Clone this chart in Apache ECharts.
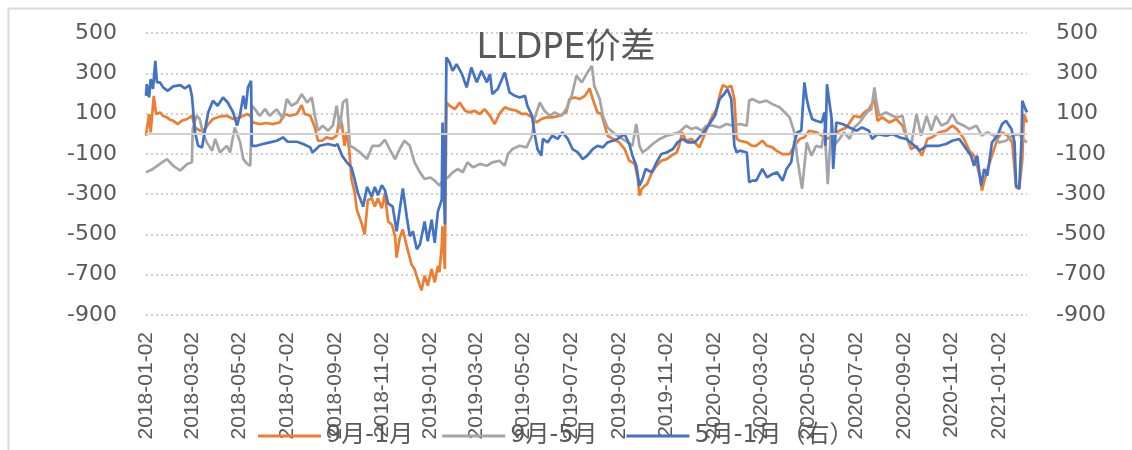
<!DOCTYPE html>
<html>
<head>
<meta charset="utf-8">
<script src="https://cdn.jsdelivr.net/npm/echarts@6/dist/echarts.min.js"></script>
<style>
html,body{margin:0;padding:0;background:#fff;}
#chart{width:1132px;height:450px;}
</style>
</head>
<body>
<div id="chart"></div>
<script>
// ---- data ----
const titleText = 'LLDPE价差';
const seriesNames = ['9月-1月', '9月-5月', '5月-1月（右）'];
const tickLabels = ['2018-01-02','2018-03-02','2018-05-02','2018-07-02','2018-09-02','2018-11-02',
  '2019-01-02','2019-03-02','2019-05-02','2019-07-02','2019-09-02','2019-11-02',
  '2020-01-02','2020-03-02','2020-05-02','2020-07-02','2020-09-02','2020-11-02','2021-01-02'];
const xMin = '2018-01-02';
const xMax = '2021-02-07';
const yMin = -900, yMax = 500, yStep = 200;

const spread91 = [
['2018-01-02',-10],['2018-01-06',97],['2018-01-08',7],['2018-01-12',188],['2018-01-15',97],['2018-01-20',106],['2018-01-24',89],['2018-01-29',81],['2018-02-02',69],['2018-02-06',64],['2018-02-12',48],['2018-02-17',64],['2018-02-24',73],['2018-03-02',89],['2018-03-06',31],['2018-03-12',15],['2018-03-19',23],['2018-03-23',48],['2018-03-29',73],['2018-04-07',86],['2018-04-16',89],['2018-04-24',73],['2018-05-03',81],['2018-05-12',98],['2018-05-16',89],['2018-05-19',56],['2018-05-28',48],['2018-06-06',53],['2018-06-14',48],['2018-06-23',56],['2018-06-29',98],['2018-07-06',89],['2018-07-15',98],['2018-07-21',142],['2018-07-25',98],['2018-08-01',89],['2018-08-07',31],['2018-08-11',-35],['2018-08-16',-35],['2018-08-22',-18],['2018-08-29',-26],['2018-09-04',-10],['2018-09-08',89],['2018-09-11',40],['2018-09-14',-60],['2018-09-17',7],['2018-09-20',-76],['2018-09-23',-225],['2018-09-27',-290],['2018-09-30',-378],['2018-10-06',-444],['2018-10-10',-500],['2018-10-14',-330],['2018-10-19',-320],['2018-10-23',-362],['2018-10-27',-320],['2018-11-01',-370],['2018-11-05',-297],['2018-11-09',-435],['2018-11-14',-452],['2018-11-18',-509],['2018-11-20',-615],['2018-11-24',-517],['2018-11-28',-476],['2018-12-03',-558],['2018-12-09',-648],['2018-12-13',-672],['2018-12-17',-721],['2018-12-22',-778],['2018-12-26',-705],['2018-12-30',-754],['2019-01-04',-672],['2019-01-08',-738],['2019-01-12',-656],['2019-01-14',-688],['2019-01-17',-558],['2019-01-18',-460],['2019-01-21',-672],['2019-01-23',155],
['2019-01-27',139],['2019-02-03',122],['2019-02-09',155],['2019-02-16',114],['2019-02-22',106],['2019-02-28',114],['2019-03-07',98],['2019-03-13',122],['2019-03-20',89],['2019-03-26',48],['2019-04-01',98],['2019-04-08',131],['2019-04-14',122],['2019-04-23',114],['2019-04-30',98],['2019-05-06',98],['2019-05-13',81],['2019-05-19',56],['2019-05-25',73],['2019-06-01',81],['2019-06-08',81],['2019-06-17',89],['2019-06-26',106],['2019-06-30',172],['2019-07-07',180],['2019-07-13',172],['2019-07-20',188],['2019-07-26',225],['2019-07-30',172],['2019-08-05',106],['2019-08-10',98],['2019-08-14',48],['2019-08-18',-10],['2019-08-25',-26],['2019-09-02',-43],['2019-09-09',-76],['2019-09-15',-134],['2019-09-22',-150],['2019-09-26',-225],['2019-09-28',-307],['2019-10-01',-274],['2019-10-05',-258],['2019-10-08',-250],['2019-10-14',-192],['2019-10-20',-159],['2019-10-26',-134],['2019-11-02',-126],['2019-11-08',-109],['2019-11-15',-93],['2019-11-18',-60],['2019-11-22',7],['2019-11-27',-35],['2019-12-04',-26],['2019-12-10',-51],['2019-12-14',-68],['2019-12-21',-2],['2019-12-27',56],['2019-12-31',89],['2020-01-05',122],['2020-01-09',188],['2020-01-13',241],['2020-01-19',230],['2020-01-24',238],['2020-01-28',172],['2020-01-31',-26],['2020-02-04',-35],['2020-02-13',-43],['2020-02-20',-60],['2020-02-25',-60],['2020-03-04',-35],['2020-03-10',-60],['2020-03-17',-68],['2020-03-22',-84],['2020-03-30',-101],['2020-04-08',-101],['2020-04-14',-60],['2020-04-21',-26],['2020-04-27',-18],['2020-05-03',15],['2020-05-12',7],['2020-05-20',-10],['2020-05-26',-26],['2020-06-02',-10],['2020-06-11',15],['2020-06-20',31],['2020-06-30',89],['2020-07-07',81],['2020-07-13',106],['2020-07-19',122],['2020-07-26',172],['2020-07-30',64],['2020-08-05',81],['2020-08-14',56],['2020-08-23',73],['2020-08-31',40],['2020-09-06',-26],['2020-09-11',-76],['2020-09-18',-60],['2020-09-25',-109],['2020-10-02',-26],['2020-10-08',-18],['2020-10-17',7],['2020-10-26',15],['2020-11-03',40],['2020-11-09',23],['2020-11-18',-26],['2020-11-25',-84],['2020-12-01',-109],['2020-12-05',-159],['2020-12-10',-241],['2020-12-11',-283],['2020-12-17',-192],['2020-12-24',-109],['2020-12-31',-26],['2021-01-06',7],['2021-01-13',-10],['2021-01-19',-43],['2021-01-24',-266],['2021-01-28',-274],['2021-02-01',-126],['2021-02-03',98],['2021-02-07',56]
];

const spread95 = [
['2018-01-02',-192],['2018-01-11',-175],['2018-01-20',-150],['2018-01-29',-126],['2018-02-06',-159],['2018-02-15',-183],['2018-02-24',-150],['2018-03-02',-142],['2018-03-03',23],['2018-03-08',89],['2018-03-12',73],['2018-03-16',7],['2018-03-21',-43],['2018-03-28',-84],['2018-04-01',-26],['2018-04-07',-93],['2018-04-16',-60],['2018-04-20',-93],['2018-04-26',31],['2018-05-03',-43],['2018-05-07',-126],['2018-05-12',-150],['2018-05-16',-159],['2018-05-18',139],['2018-05-22',122],['2018-05-28',89],['2018-06-04',122],['2018-06-10',89],['2018-06-19',122],['2018-06-27',73],['2018-07-02',172],['2018-07-08',139],['2018-07-15',155],['2018-07-21',197],['2018-07-28',155],['2018-08-03',180],['2018-08-07',89],['2018-08-11',15],['2018-08-17',40],['2018-08-24',15],['2018-08-30',40],['2018-09-04',139],['2018-09-08',23],['2018-09-12',155],['2018-09-17',172],['2018-09-21',-60],['2018-09-25',-68],['2018-10-04',-93],['2018-10-13',-126],['2018-10-20',-60],['2018-10-29',-60],['2018-11-05',-30],['2018-11-11',-76],['2018-11-18',-126],['2018-11-24',-76],['2018-11-30',-35],['2018-12-07',-60],['2018-12-13',-142],['2018-12-20',-192],['2018-12-26',-225],['2019-01-02',-217],['2019-01-08',-233],['2019-01-14',-258],['2019-01-18',-233],['2019-01-25',-217],['2019-01-31',-192],['2019-02-07',-175],['2019-02-13',-192],['2019-02-19',-142],['2019-02-26',-167],['2019-03-07',-150],['2019-03-16',-159],['2019-03-23',-142],['2019-04-01',-134],['2019-04-08',-159],['2019-04-12',-101],['2019-04-18',-76],['2019-04-27',-60],['2019-05-06',-68],['2019-05-13',-10],['2019-05-16',73],['2019-05-23',155],['2019-05-29',114],['2019-06-05',89],['2019-06-11',106],['2019-06-20',89],['2019-06-26',122],['2019-07-03',188],['2019-07-09',288],['2019-07-16',255],['2019-07-22',296],['2019-07-29',337],['2019-08-01',238],['2019-08-08',172],['2019-08-12',89],['2019-08-18',31],['2019-08-25',7],['2019-08-31',-10],['2019-09-06',-26],['2019-09-13',-43],['2019-09-19',-60],['2019-09-24',48],['2019-09-28',-60],['2019-10-02',-93],['2019-10-08',-76],['2019-10-15',-51],['2019-10-24',-26],['2019-11-02',-10],['2019-11-10',-2],['2019-11-18',7],['2019-11-27',40],['2019-12-04',23],['2019-12-10',31],['2019-12-17',15],['2019-12-23',40],['2019-12-31',40],['2020-01-09',31],['2020-01-18',48],['2020-01-26',40],['2020-02-04',48],['2020-02-13',40],['2020-02-16',164],['2020-02-20',172],['2020-02-29',155],['2020-03-09',164],['2020-03-17',147],['2020-03-26',131],['2020-04-04',98],['2020-04-08',81],['2020-04-14',7],['2020-04-18',-126],['2020-04-24',-274],['2020-04-30',-43],['2020-05-06',-109],['2020-05-12',-60],['2020-05-19',-68],['2020-05-23',23],['2020-05-27',-250],['2020-06-01',73],['2020-06-04',-60],['2020-06-11',-26],['2020-06-17',7],['2020-06-24',-26],['2020-06-30',31],['2020-07-07',56],['2020-07-16',106],['2020-07-22',122],['2020-07-26',230],['2020-07-28',172],['2020-08-01',89],['2020-08-10',106],['2020-08-18',89],['2020-08-24',81],['2020-08-31',89],['2020-09-06',-26],['2020-09-11',-60],['2020-09-18',98],['2020-09-24',-10],['2020-10-01',89],['2020-10-07',15],['2020-10-13',89],['2020-10-20',40],['2020-10-28',56],['2020-11-03',98],['2020-11-09',56],['2020-11-18',40],['2020-11-25',23],['2020-12-04',40],['2020-12-11',-10],['2020-12-18',7],['2020-12-27',-10],['2021-01-02',-43],['2021-01-11',-35],['2021-01-19',-10],['2021-01-28',-2],['2021-02-01',-26],['2021-02-07',-43]
];

const spread51 = [
['2018-01-02',188],['2018-01-03',246],['2018-01-06',180],['2018-01-08',271],['2018-01-11',222],['2018-01-14',362],['2018-01-16',255],['2018-01-20',255],['2018-01-24',230],['2018-01-30',213],['2018-02-06',235],['2018-02-15',241],['2018-02-21',225],['2018-02-27',241],['2018-03-02',188],['2018-03-06',7],['2018-03-10',-60],['2018-03-15',-68],['2018-03-19',23],['2018-03-23',106],['2018-03-29',164],['2018-04-04',139],['2018-04-11',180],['2018-04-17',155],['2018-04-24',106],['2018-04-29',40],['2018-05-03',98],['2018-05-07',188],['2018-05-10',122],['2018-05-13',230],['2018-05-17',263],['2018-05-18',-60],['2018-05-24',-60],['2018-06-01',-51],['2018-06-10',-43],['2018-06-19',-35],['2018-06-27',-18],['2018-07-03',-40],['2018-07-15',-40],['2018-07-23',-51],['2018-08-01',-68],['2018-08-04',-93],['2018-08-13',-60],['2018-08-24',-51],['2018-09-02',-60],['2018-09-05',-51],['2018-09-11',-109],['2018-09-17',-142],['2018-09-23',-167],['2018-09-27',-225],['2018-10-01',-291],['2018-10-08',-362],['2018-10-13',-264],['2018-10-19',-313],['2018-10-23',-264],['2018-10-27',-305],['2018-11-01',-256],['2018-11-05',-280],['2018-11-09',-346],['2018-11-15',-362],['2018-11-20',-485],['2018-11-24',-378],['2018-11-28',-272],['2018-12-03',-411],['2018-12-07',-509],['2018-12-11',-485],['2018-12-16',-574],['2018-12-20',-550],['2018-12-26',-436],['2018-12-30',-534],['2019-01-04',-427],['2019-01-08',-542],['2019-01-12',-387],['2019-01-17',-329],['2019-01-18',56],['2019-01-21',-450],['2019-01-23',379],['2019-01-27',354],['2019-01-31',312],['2019-02-05',345],['2019-02-12',296],['2019-02-18',230],['2019-02-24',329],['2019-03-03',255],['2019-03-09',312],['2019-03-16',255],['2019-03-20',296],['2019-03-23',197],['2019-03-30',222],['2019-04-08',304],['2019-04-14',205],['2019-04-21',188],['2019-04-27',180],['2019-05-04',188],['2019-05-07',139],['2019-05-13',89],['2019-05-16',7],['2019-05-20',-76],['2019-05-25',-109],['2019-05-27',-26],['2019-06-02',-43],['2019-06-08',-10],['2019-06-15',-26],['2019-06-21',7],['2019-06-28',-26],['2019-07-04',-76],['2019-07-11',-93],['2019-07-17',-126],['2019-07-23',-109],['2019-07-30',-76],['2019-08-05',-60],['2019-08-12',-68],['2019-08-18',-43],['2019-08-25',-35],['2019-08-31',-26],['2019-09-09',-2],['2019-09-15',-51],['2019-09-19',-109],['2019-09-24',-159],['2019-09-28',-258],['2019-10-02',-225],['2019-10-06',-175],['2019-10-14',-192],['2019-10-20',-142],['2019-10-26',-101],['2019-11-02',-93],['2019-11-10',-76],['2019-11-16',-43],['2019-11-22',-26],['2019-11-29',-43],['2019-12-08',-43],['2019-12-14',-18],['2019-12-21',15],['2019-12-27',48],['2020-01-03',89],['2020-01-09',172],['2020-01-15',197],['2020-01-19',222],['2020-01-24',172],['2020-01-28',-60],['2020-01-31',-93],['2020-02-04',-84],['2020-02-13',-93],['2020-02-16',-241],['2020-02-20',-233],['2020-02-25',-233],['2020-03-04',-175],['2020-03-10',-217],['2020-03-17',-200],['2020-03-23',-192],['2020-03-30',-233],['2020-04-04',-175],['2020-04-10',-142],['2020-04-14',-43],['2020-04-18',7],['2020-04-23',15],['2020-04-27',255],['2020-04-30',172],['2020-05-03',122],['2020-05-07',73],['2020-05-12',64],['2020-05-19',56],['2020-05-23',106],['2020-05-24',-60],['2020-05-26',246],['2020-06-01',73],['2020-06-03',-175],['2020-06-07',56],['2020-06-15',48],['2020-06-24',31],['2020-07-03',15],['2020-07-10',31],['2020-07-19',15],['2020-07-23',-26],['2020-07-30',-2],['2020-08-10',-10],['2020-08-18',-2],['2020-08-27',-18],['2020-09-05',-26],['2020-09-13',-51],['2020-09-22',-84],['2020-10-01',-60],['2020-10-08',-60],['2020-10-17',-60],['2020-10-26',-51],['2020-11-03',-35],['2020-11-12',-26],['2020-11-21',-76],['2020-11-27',-109],['2020-12-01',-159],['2020-12-05',-109],['2020-12-10',-258],['2020-12-14',-175],['2020-12-18',-208],['2020-12-24',-43],['2020-12-31',-10],['2021-01-06',48],['2021-01-11',64],['2021-01-18',23],['2021-01-22',-43],['2021-01-24',-258],['2021-01-28',-274],['2021-01-31',-26],['2021-02-01',164],['2021-02-05',122],['2021-02-07',106]
];

// ---- helpers ----
function parseDay(s) {
  const p = s.split('-').map(Number);
  return Date.UTC(p[0], p[1] - 1, p[2]);
}
function fmtDay(v) {
  const d = new Date(v);
  return d.getUTCFullYear() + '-' + String(d.getUTCMonth() + 1).padStart(2, '0') + '-' + String(d.getUTCDate()).padStart(2, '0');
}
function toXY(arr) { return arr.map(function (p) { return [parseDay(p[0]), p[1]]; }); }
const tickValues = tickLabels.map(parseDay);
const xMinV = parseDay(xMin), xMaxV = parseDay(xMax);

const TXT = '#595959';
const GRIDC = '#D0D0D0';
const chart = echarts.init(document.getElementById('chart'));

chart.setOption({
  animation: false,
  title: {
    text: titleText, left: 'center', top: 26,
    textStyle: { color: TXT, fontSize: 35, fontWeight: 'normal', fontFamily: 'DejaVu Sans, Noto Sans CJK SC' }
  },
  legend: {
    data: seriesNames, left: 253, top: 419,
    icon: 'rect', itemWidth: 63, itemHeight: 3, itemGap: 29,
    textStyle: { color: TXT, fontSize: 24, fontFamily: 'DejaVu Sans, Noto Sans CJK SC' }
  },
  grid: { left: 146, right: 105, top: 33, bottom: 135 },
  graphic: [{
    type: 'rect', left: 6, top: 6, silent: true,
    shape: { x: 0, y: 0, width: 1140, height: 460 },
    style: { fill: 'none', stroke: '#D9D9D9', lineWidth: 2 }
  }],
  xAxis: [{
    type: 'value', min: xMinV, max: xMaxV, position: 'bottom',
    axisLine: { show: false, onZero: false }, axisTick: { show: false }, splitLine: { show: false },
    axisLabel: {
      customValues: tickValues, rotate: 90, margin: 17, color: TXT, fontSize: 21,
      formatter: function (v) { return fmtDay(v); }
    }
  }],
  yAxis: [
    { type: 'value', min: yMin, max: yMax, interval: yStep, position: 'left',
      axisLine: { show: false }, axisTick: { show: false },
      axisLabel: { color: TXT, fontSize: 22, fontFamily: 'DejaVu Sans', margin: 29 },
      splitLine: { show: true, lineStyle: { color: GRIDC, type: [2, 3], width: 2 } } },
    { type: 'value', min: yMin, max: yMax, interval: yStep, position: 'right',
      axisLine: { show: false }, axisTick: { show: false },
      axisLabel: { color: TXT, fontSize: 22, fontFamily: 'DejaVu Sans', margin: 29 },
      splitLine: { show: false } }
  ],
  series: [
    { name: seriesNames[0], type: 'line', yAxisIndex: 0, data: toXY(spread91),
      showSymbol: false, color: '#ED7D31', lineStyle: { width: 2.7, color: '#ED7D31' },
      markLine: { silent: true, symbol: ['none', 'none'], label: { show: false },
        lineStyle: { color: GRIDC, type: 'solid', width: 2 }, data: [{ yAxis: 0 }] } },
    { name: seriesNames[1], type: 'line', yAxisIndex: 0, data: toXY(spread95),
      showSymbol: false, color: '#A5A5A5', lineStyle: { width: 2.7, color: '#A5A5A5' } },
    { name: seriesNames[2], type: 'line', yAxisIndex: 1, data: toXY(spread51),
      showSymbol: false, color: '#4472C4', lineStyle: { width: 2.7, color: '#4472C4' } }
  ]
});
</script>
</body>
</html>
